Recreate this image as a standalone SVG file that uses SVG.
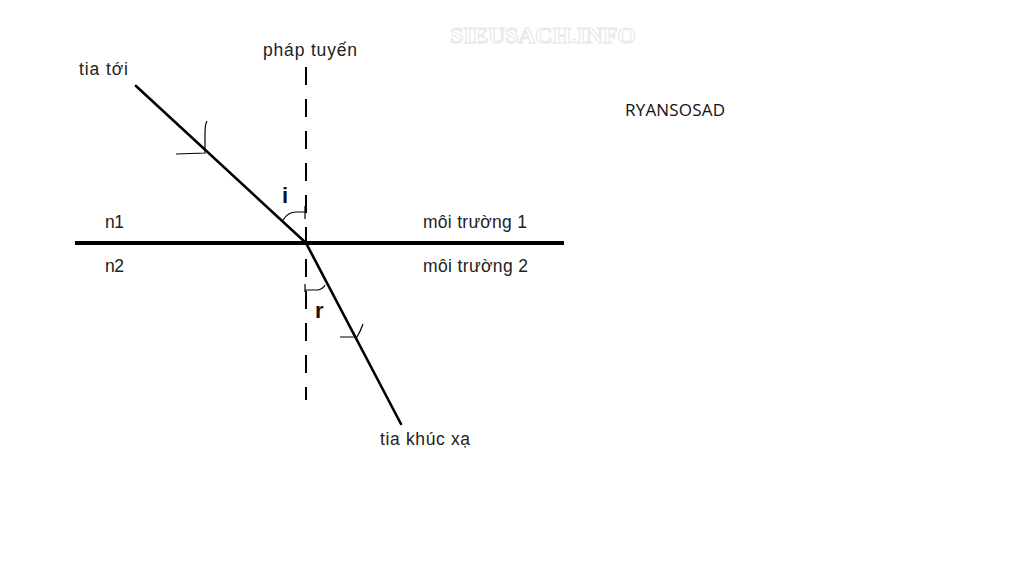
<svg xmlns="http://www.w3.org/2000/svg" width="1024" height="568" viewBox="0 0 1024 568">
<style>
.t{font-family:"Liberation Sans",Arial,sans-serif;font-size:17.5px;fill:#222}
.b{font-family:"Liberation Sans",Arial,sans-serif;font-size:22px;font-weight:bold;fill:#111}
.ray{stroke:#000;stroke-width:2.6;fill:none;stroke-linecap:round}
.thin{stroke:#000;stroke-width:1.2;fill:none}
</style>
<rect width="1024" height="568" fill="#fff"/>
<text x="450" y="43" font-family="Liberation Serif,serif" font-size="24" font-weight="bold" fill="#fff" stroke="#e6e6e6" stroke-width="1" textLength="186">SIEUSACH.INFO</text>
<g id="connectors">
<line x1="75" y1="243" x2="564" y2="243" stroke="#000" stroke-width="4"/>
<line x1="306" y1="67" x2="306" y2="400" stroke="#000" stroke-width="2" stroke-dasharray="18 14"/>
<line class="ray" x1="136" y1="86" x2="306" y2="243"/>
<line class="ray" x1="306" y1="243" x2="401" y2="424"/>
</g>
<g id="incident-mark">
<path class="thin" d="M176 154 L205 153 L205 134 Q205 124 207 121"/>
</g>
<g id="refracted-mark">
<path class="thin" d="M340 337 L357 337 Q361 330 363 324"/>
</g>
<g id="angle-i">
<path class="thin" d="M283 220 Q288 212 296 212 L306 212"/>
<line class="thin" x1="305" y1="206" x2="305" y2="219"/>
<text class="b" x="282" y="203">i</text>
</g>
<g id="angle-r">
<line class="thin" x1="305" y1="284" x2="305" y2="292"/>
<path class="thin" d="M305 290 L318 290 Q323 289 325 285"/>
<text class="b" x="315" y="318">r</text>
</g>
<g id="labels">
<text class="t" x="79" y="75" textLength="49">tia tới</text>
<text class="t" x="263" y="56" textLength="94">pháp tuyến</text>
<text class="t" x="105" y="228" textLength="19">n1</text>
<text class="t" x="105" y="272" textLength="19">n2</text>
<text class="t" x="423" y="228" textLength="104">môi trường 1</text>
<text class="t" x="423" y="272" textLength="105">môi trường 2</text>
<text class="t" x="380" y="445" textLength="90">tia khúc xạ</text>
<text x="625" y="116" font-family="Open Sans,Liberation Sans,sans-serif" font-size="17" fill="#111" textLength="100">RYANSOSAD</text>
</g>
</svg>
